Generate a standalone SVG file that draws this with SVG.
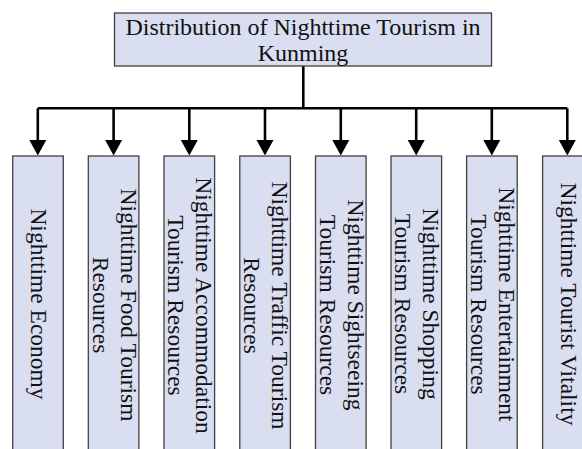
<svg xmlns="http://www.w3.org/2000/svg" width="582" height="449" viewBox="0 0 582 449">
<defs>
<style>
.box{fill:#d9def1;stroke:#404040;stroke-width:1.3}
.t{font-family:"Liberation Serif","Times New Roman",serif;font-size:23.5px;fill:#111;text-anchor:middle}
.tt{font-size:24px}
.ln{stroke:#000;stroke-width:2.6;fill:none}
.ah{fill:#000}
</style>
</defs>
<rect width="582" height="449" fill="#fff"/>
<g id="connectors">
<line class="ln" x1="303.3" y1="66" x2="303.3" y2="108.3"/>
<line class="ln" x1="37.8" y1="108.3" x2="567.3" y2="108.3"/>
<g id="arrows">
<line class="ln" x1="37.8" y1="108.3" x2="37.8" y2="142"/><polygon class="ah" points="29.3,140 46.3,140 37.8,155.5"/>
<line class="ln" x1="113.6" y1="108.3" x2="113.6" y2="142"/><polygon class="ah" points="105.1,140 122.1,140 113.6,155.5"/>
<line class="ln" x1="189.3" y1="108.3" x2="189.3" y2="142"/><polygon class="ah" points="180.8,140 197.8,140 189.3,155.5"/>
<line class="ln" x1="265.0" y1="108.3" x2="265.0" y2="142"/><polygon class="ah" points="256.5,140 273.5,140 265.0,155.5"/>
<line class="ln" x1="340.8" y1="108.3" x2="340.8" y2="142"/><polygon class="ah" points="332.3,140 349.3,140 340.8,155.5"/>
<line class="ln" x1="416.2" y1="108.3" x2="416.2" y2="142"/><polygon class="ah" points="407.7,140 424.7,140 416.2,155.5"/>
<line class="ln" x1="491.8" y1="108.3" x2="491.8" y2="142"/><polygon class="ah" points="483.3,140 500.3,140 491.8,155.5"/>
<line class="ln" x1="567.3" y1="108.3" x2="567.3" y2="142"/><polygon class="ah" points="558.8,140 575.8,140 567.3,155.5"/>
</g>
</g>
<g id="root">
<rect class="box" x="114.5" y="13" width="377" height="53"/>
<text class="t tt" x="303" y="35">Distribution of Nighttime Tourism in</text>
<text class="t tt" x="303" y="60.5">Kunming</text>
</g>
<g id="n1">
<rect class="box" x="12.7" y="156" width="50.6" height="300"/>
<text class="t" transform="translate(31.3,304) rotate(90)">Nighttime Economy</text>
</g>
<g id="n2">
<rect class="box" x="88.3" y="156" width="50.6" height="300"/>
<text class="t" transform="translate(120.7,305) rotate(90)"><tspan x="0" y="0">Nighttime Food Tourism</tspan><tspan x="0" y="28">Resources</tspan></text>
</g>
<g id="n3">
<rect class="box" x="164" y="156" width="50.6" height="300"/>
<text class="t" transform="translate(196.3,305.5) rotate(90)"><tspan x="0" y="0">Nighttime Accommodation</tspan><tspan x="0" y="28">Tourism Resources</tspan></text>
</g>
<g id="n4">
<rect class="box" x="239.8" y="156" width="50.6" height="300"/>
<text class="t" transform="translate(272,305.5) rotate(90)"><tspan x="0" y="0">Nighttime Traffic Tourism</tspan><tspan x="0" y="28">Resources</tspan></text>
</g>
<g id="n5">
<rect class="box" x="315.5" y="156" width="50.6" height="300"/>
<text class="t" transform="translate(347.8,305) rotate(90)"><tspan x="0" y="0">Nighttime Sightseeing</tspan><tspan x="0" y="28">Tourism Resources</tspan></text>
</g>
<g id="n6">
<rect class="box" x="391" y="156" width="50.6" height="300"/>
<text class="t" transform="translate(423.3,304) rotate(90)"><tspan x="0" y="0">Nighttime Shopping</tspan><tspan x="0" y="28">Tourism Resources</tspan></text>
</g>
<g id="n7">
<rect class="box" x="466.6" y="156" width="50.6" height="300"/>
<text class="t" transform="translate(498.9,304.5) rotate(90)"><tspan x="0" y="0">Nighttime Entertainment</tspan><tspan x="0" y="28">Tourism Resources</tspan></text>
</g>
<g id="n8">
<rect class="box" x="542.6" y="156" width="50.6" height="300"/>
<text class="t" transform="translate(560.5,304) rotate(90)">Nighttime Tourist Vitality</text>
</g>
</svg>
